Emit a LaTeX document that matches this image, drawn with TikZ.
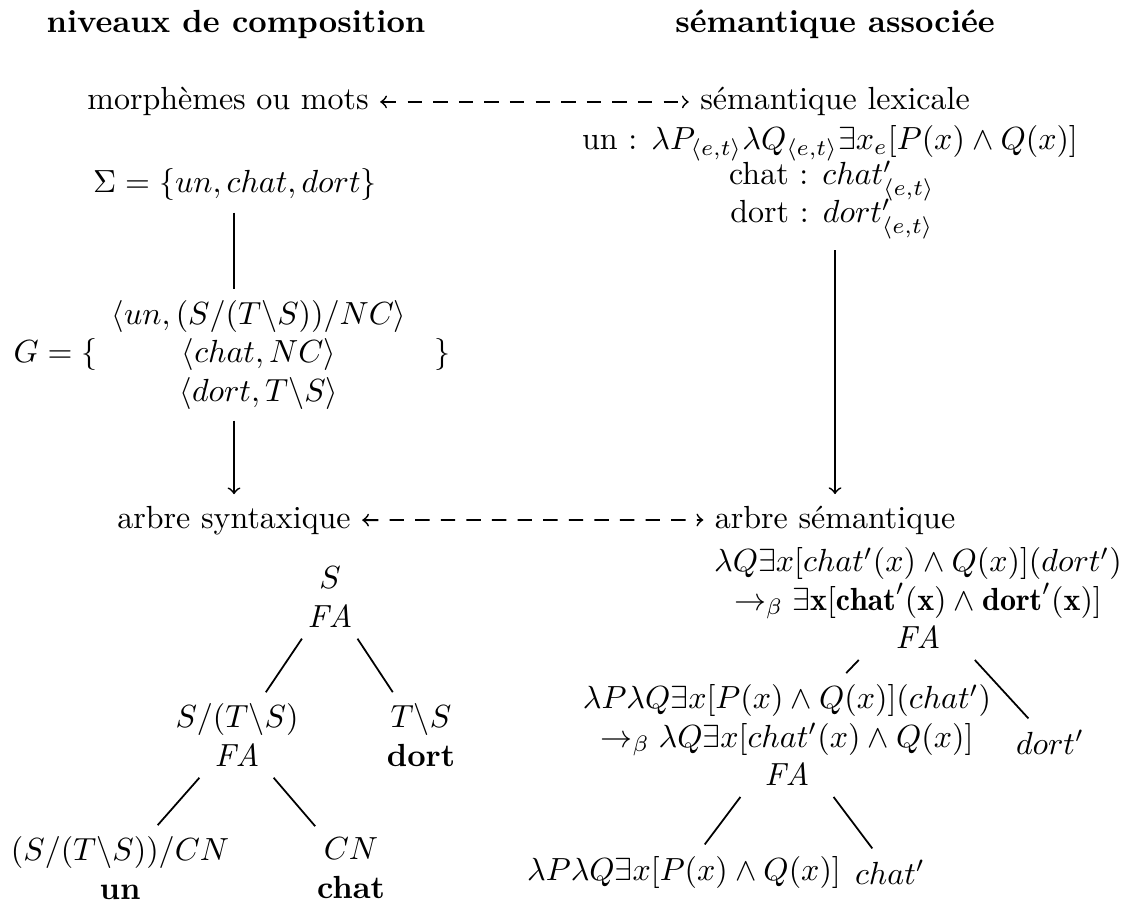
\documentclass[tikz,border=0pt]{standalone}
\usepackage{fontspec}
\begin{document}
\begin{tikzpicture}[x=0.3125pt,y=-0.3125pt,
  every node/.style={align=center},
  every path/.style={line width=0.55pt},
  lbl/.style={anchor=base},
  dlink/.style={dash pattern=on 4.5pt off 3.5pt,<->},
  edge/.style={draw}]
\useasboundingbox (0,0) rectangle (1129,903);
% titles
\node[lbl] (t1) at (236,33) {\textbf{niveaux de composition}};
\node[lbl] (t2) at (835,33) {\textbf{sémantique associée}};
% top row
\node[lbl] (morph) at (228,110) {morphèmes ou mots};
\node[lbl] (slex) at (835,110) {sémantique lexicale};
\draw[dlink] (morph) -- (slex);
% lexicon
\node[lbl] (lexU) at (830,150) {un : $\lambda P_{\langle e,t\rangle}\lambda Q_{\langle e,t\rangle}\exists x_e[P(x)\wedge Q(x)]$};
\node[lbl] (lexC) at (832,185) {chat : $chat'_{\langle e,t\rangle}$};
\node[lbl] (lexD) at (832,223) {dort : $dort'_{\langle e,t\rangle}$};
% alphabet and grammar
\node[lbl] (sigma) at (235,193) {$\Sigma=\{un, chat, dort\}$};
\node[lbl] (g1) at (259,325) {$\langle un,(S/(T\backslash S))/NC\rangle$};
\node[lbl] (g2) at (259,363) {$\langle chat, NC\rangle$};
\node[lbl] (g3) at (259,401) {$\langle dort, T\backslash S\rangle$};
\node[anchor=base west] (gl) at (2,363) {$G=\{$};
\node[lbl] (gr) at (442,363) {$\}$};
% second row
\node[lbl] (asyn) at (234,528) {arbre syntaxique};
\node[lbl] (asem) at (835,528) {arbre sémantique};
\draw[dlink] (asyn) -- (asem);
\draw (sigma.south -| asyn) -- (g1.north -| asyn);
\draw[->] (g3.south -| asyn) -- (asyn.north);
\draw[->] (lexD.south -| asem) -- (asem.north);
% syntactic tree
\node (sS) at (330,597) {$S$\\$\mathit{FA}$};
\node (sL) at (237,735) {$S/(T\backslash S)$\\$\mathit{FA}$};
\node (sR) at (421,735) {$T\backslash S$\\\textbf{dort}};
\node (sLL) at (120,868) {$(S/(T\backslash S))/CN$\\\textbf{un}};
\node (sLR) at (351,868) {$CN$\\\textbf{chat}};
\draw (sS) -- (sL);
\draw (sS) -- (sR);
\draw (sL) -- (sLL);
\draw (sL) -- (sLR);
% semantic tree
\node (mR) at (918,598) {$\lambda Q\exists x[chat'(x)\wedge Q(x)](dort')$\\
  $\to_\beta \exists\mathbf{x}[\mathbf{chat}'(\mathbf{x})\wedge\mathbf{dort}'(\mathbf{x})]$\\$\mathit{FA}$};
\node (mL) at (787,735) {$\lambda P\lambda Q\exists x[P(x)\wedge Q(x)](chat')$\\
  $\to_\beta \lambda Q\exists x[chat'(x)\wedge Q(x)]$\\$\mathit{FA}$};
\node (mD) at (1050,742) {$dort'$};
\node (mLL) at (684,872) {$\lambda P\lambda Q\exists x[P(x)\wedge Q(x)]$};
\node (mLR) at (890,872) {$chat'$};
\draw (mR) -- (mL);
\draw (mR) -- (mD);
\draw (mL) -- (mLL);
\draw (mL) -- (mLR);
\end{tikzpicture}
\end{document}
